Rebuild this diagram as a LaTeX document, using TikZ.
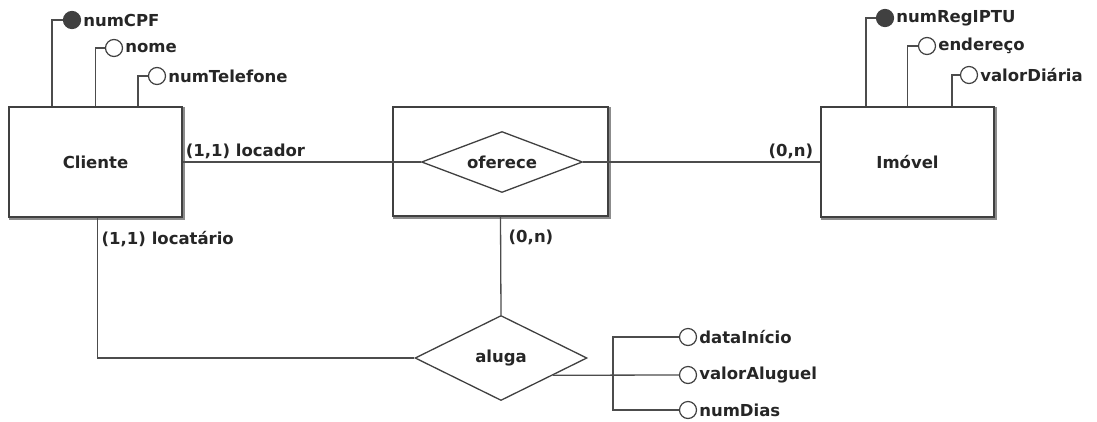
\documentclass[tikz,border=0pt]{standalone}
\usepackage{fontspec}
\setmainfont{DejaVu Sans}
\usepackage{tikz}
\usetikzlibrary{shapes.geometric, positioning, calc}

\begin{document}
\begin{tikzpicture}[
  x=1pt, y=-1pt,
  every node/.style={font=\fontsize{16.5}{19}\selectfont\bfseries, text=black!85},
  entidade/.style={
    rectangle, draw=black!75, fill=white, line width=1.3pt,
    minimum width=173pt, minimum height=110pt},
  agreg/.style={
    rectangle, draw=black!75, fill=white, line width=1.3pt,
    minimum width=215pt, minimum height=109pt},
  relac/.style={
    diamond, draw=black!75, fill=white, line width=1.3pt,
    inner sep=0pt, aspect=2},
  atrib/.style={
    circle, draw=black!75, fill=white, line width=1.2pt,
    minimum size=17pt, inner sep=0pt},
  chave/.style={atrib, fill=black!75},
  lig/.style={draw=black!70, line width=1.3pt},
  sombra/.style={draw=black!45, line width=1.2pt},
  card/.style={inner sep=1pt},
  nomeatr/.style={inner sep=0pt},
]
\useasboundingbox (0,0) rectangle (1097,421);

% entidades
\node[entidade] (cliente) at (95.5, 162) {Cliente};
\node[entidade] (imovel)  at (907.5, 162) {Imóvel};

% agregacao com relacionamento oferece
\node[agreg] (ofereceBox) at (500.5, 161.5) {};

% sombra das caixas
\foreach \caixa in {cliente, imovel, ofereceBox}
  \draw[sombra] ([shift={(1.4,1)}]\caixa.north east)
    -- ([shift={(1.4,1.4)}]\caixa.south east)
    -- ([shift={(1,1.4)}]\caixa.south west);

\node[relac, minimum width=161pt, minimum height=61pt] (oferece) at (502, 162) {oferece};

% relacionamento aluga
\node[relac, minimum width=172pt, minimum height=85pt] (aluga) at (501, 358) {aluga};

% atributos de Cliente
\node[chave] (cpf)  at (72, 20) {};
\node[atrib] (nome) at (114, 48) {};
\node[atrib] (tel)  at (157, 76) {};
\node[nomeatr, right=2pt of cpf]  {numCPF};
\node[nomeatr, right=2pt of nome] {nome};
\node[nomeatr, right=2pt of tel]  {numTelefone};

\draw[lig] ([xshift=-43.5pt]cliente.north) |- (cpf.west);
\draw[lig] (cliente.north) |- (nome.west);
\draw[lig] ([xshift=42.5pt]cliente.north) |- (tel.west);

% atributos de Imovel
\node[chave] (iptu) at (885, 18) {};
\node[atrib] (end)  at (927, 46) {};
\node[atrib] (diar) at (969, 75) {};
\node[nomeatr, right=2pt of iptu] {numRegIPTU};
\node[nomeatr, right=2pt of end]  {endereço};
\node[nomeatr, right=2pt of diar] {valorDiária};

\draw[lig] ([xshift=-41.5pt]imovel.north) |- (iptu.west);
\draw[lig] (imovel.north) |- (end.west);
\draw[lig] ([xshift=44.5pt]imovel.north) |- (diar.west);

% atributos de aluga
\node[atrib] (inicio) at (688, 337) {};
\node[atrib] (valor)  at (688, 375) {};
\node[atrib] (dias)   at (688, 410) {};
\node[nomeatr, right=2pt of inicio] {dataInício};
\node[nomeatr, right=2pt of valor]  {valorAluguel};
\node[nomeatr, right=2pt of dias]   {numDias};

\draw[lig] ($(aluga.east)!0.4!(aluga.south)$) -- (valor.west);
\draw[lig] (inicio.west) -- ++(-66,0) |- (dias.west);

% ligacoes
\draw[lig] (cliente.east) -- (oferece.west);
\draw[lig] (oferece.east) -- (imovel.west);
\draw[lig] (ofereceBox.south) -- (aluga.north);
\draw[lig] ([xshift=2pt]cliente.south) |- (aluga.west);

% cardinalidades
\node[card, anchor=south west] (cardLocador) at ([xshift=2pt, yshift=2pt]cliente.east) {(1,1) locador};
\node[card, anchor=south east] (cardImovel) at ([xshift=-6pt, yshift=2pt]imovel.west) {(0,n)};
\node[card, anchor=north west] (cardAluga) at ([xshift=7pt, yshift=-12pt]ofereceBox.south) {(0,n)};
\node[card, anchor=north west] (cardLocatario) at ([xshift=5pt, yshift=-12pt]cliente.south) {(1,1) locatário};

\end{tikzpicture}
\end{document}
